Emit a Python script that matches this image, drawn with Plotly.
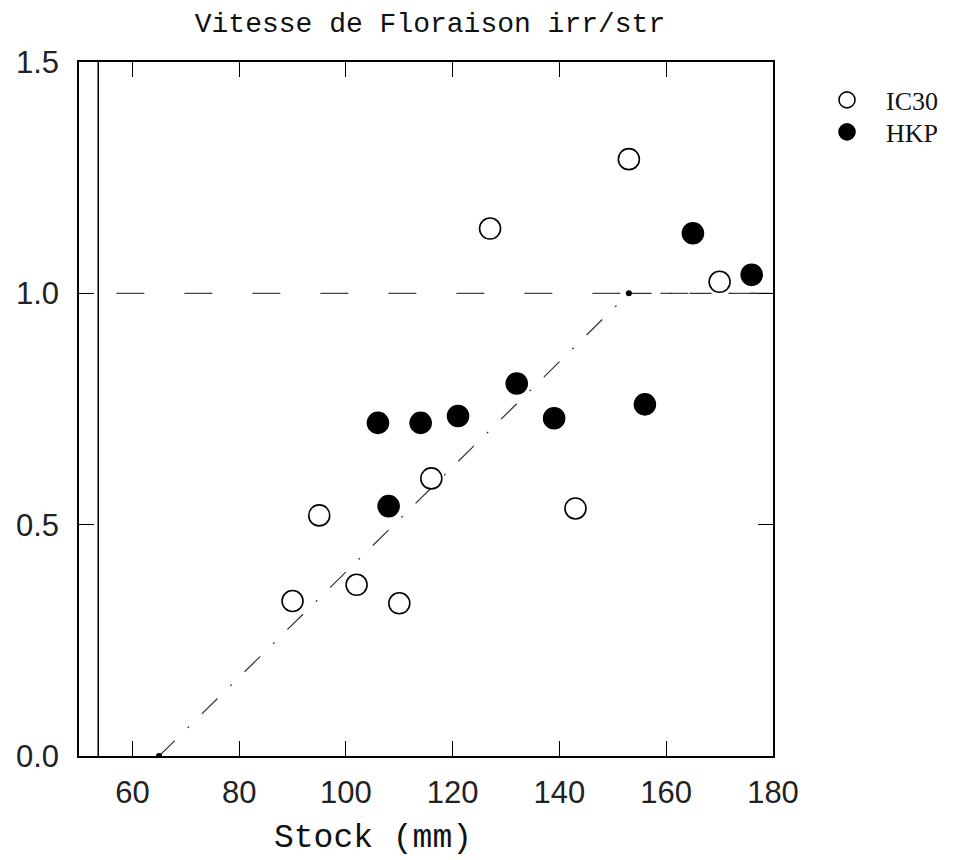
import plotly.graph_objects as go

# ---- data ----
ic30_x = [90, 95, 102, 110, 116, 127, 143, 153, 170]
ic30_y = [0.335, 0.52, 0.37, 0.33, 0.60, 1.14, 0.535, 1.29, 1.025]
hkp_x = [106, 108, 114, 121, 132, 139, 156, 165, 176]
hkp_y = [0.72, 0.54, 0.72, 0.735, 0.805, 0.73, 0.76, 1.13, 1.04]

# broken-line fit (threshold model) and reference level
fit_x = [65, 153, 180]
fit_y = [0.0, 1.0, 1.0]
knot_x = [65, 153]
knot_y = [0.0, 1.0]
ref_x = [57, 180]
ref_y = [1.0, 1.0]
extra_vline_x = [53.6]

x_ticks = [60, 80, 100, 120, 140, 160, 180]
y_ticks = [0.0, 0.5, 1.0, 1.5]

fig = go.Figure()

fig.add_trace(go.Scatter(x=ref_x, y=ref_y, mode="lines", showlegend=False,
                         line=dict(color="#444", width=1.2, dash="28px,40px"),
                         hoverinfo="skip"))
fig.add_trace(go.Scatter(x=fit_x, y=fit_y, mode="lines", showlegend=False,
                         line=dict(color="#333", width=1.2, dash="22px,18px,2px,18px"),
                         hoverinfo="skip"))
fig.add_trace(go.Scatter(x=knot_x, y=knot_y, mode="markers", showlegend=False,
                         marker=dict(color="black", size=6), hoverinfo="skip"))

fig.add_trace(go.Scatter(x=ic30_x, y=ic30_y, mode="markers", name="IC30",
                         legend="legend",
                         marker=dict(symbol="circle", size=21, color="white",
                                     line=dict(color="black", width=1.6))))
fig.add_trace(go.Scatter(x=hkp_x, y=hkp_y, mode="markers", name="HKP",
                         legend="legend2",
                         marker=dict(symbol="circle", size=21, color="black",
                                     line=dict(color="black", width=1.6))))

for vx in extra_vline_x:
    fig.add_shape(type="line", xref="x", yref="paper", x0=vx, x1=vx, y0=0, y1=1,
                  line=dict(color="black", width=1.5))

# axis title as annotation (offset left of center in the original)
fig.add_annotation(text="Stock (mm)", xref="paper", yref="paper",
                   x=(373 - 79) / 694, y=-(838 - 756) / 694,
                   xanchor="center", yanchor="middle", showarrow=False,
                   font=dict(family="Liberation Mono", size=33, color="#111"))

axis_common = dict(showline=True, linecolor="black", linewidth=1.5, mirror="ticks",
                   ticks="inside", ticklen=15, tickwidth=1.2, tickcolor="black",
                   showgrid=False, zeroline=False,
                   tickfont=dict(family="Liberation Sans", size=31, color="#222"))

legend_font = dict(family="Liberation Serif", size=26, color="#111")

fig.update_layout(
    width=966, height=860, autosize=False,
    margin=dict(l=79, r=193, t=62, b=104),
    paper_bgcolor="white", plot_bgcolor="white",
    title=dict(text="Vitesse de Floraison irr/str", x=430 / 966, xanchor="center",
               y=1 - 22 / 860, yanchor="middle",
               font=dict(family="Liberation Mono", size=28, color="#111")),
    xaxis=dict(range=[50, 180], tickvals=x_ticks, ticklabelstandoff=8, **axis_common),
    yaxis=dict(range=[0, 1.5], tickvals=y_ticks, tickformat=".1f",
               ticklabelstandoff=12, **axis_common),
    legend=dict(x=(808 - 79) / 694, y=(756 - 100) / 694, xanchor="left", yanchor="middle",
                itemwidth=68, bgcolor="rgba(0,0,0,0)", font=legend_font),
    legend2=dict(x=(808 - 79) / 694, y=(756 - 132) / 694, xanchor="left", yanchor="middle",
                 itemwidth=68, bgcolor="rgba(0,0,0,0)", font=legend_font),
    showlegend=True,
)

fig.write_html("out.html")
